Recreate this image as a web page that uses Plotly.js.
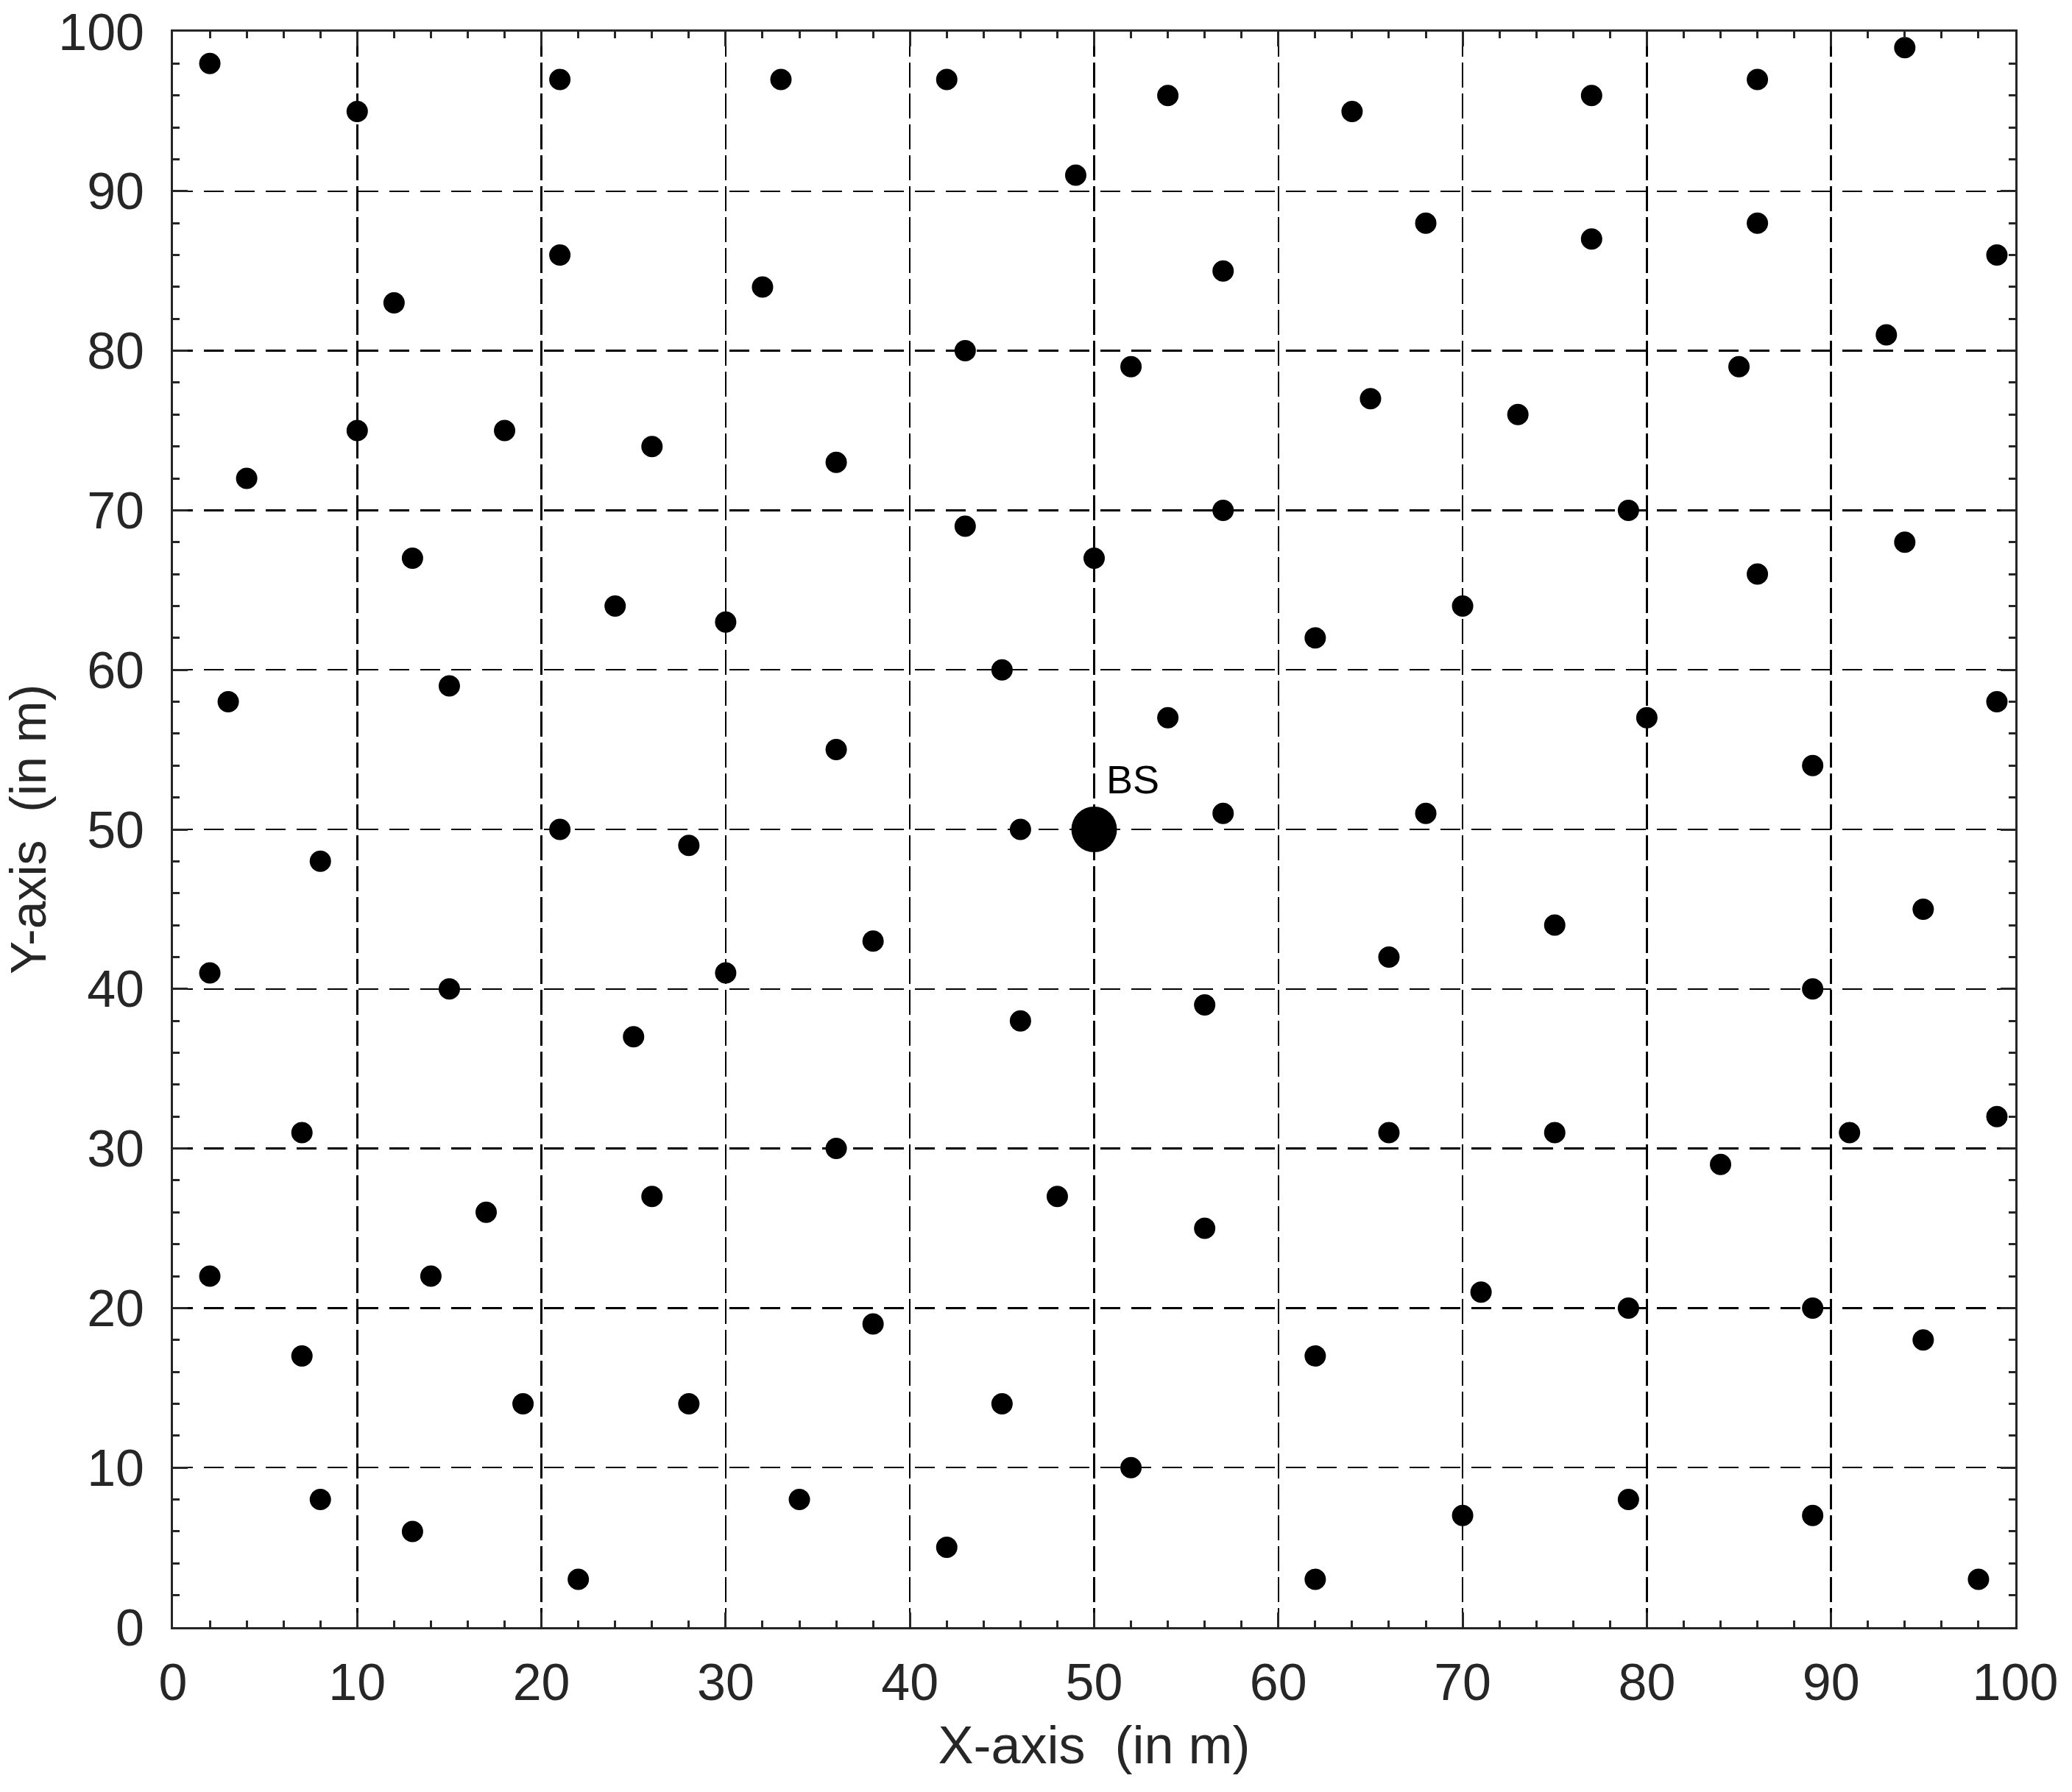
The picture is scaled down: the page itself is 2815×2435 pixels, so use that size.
<!DOCTYPE html>
<html>
<head>
<meta charset="utf-8">
<script src="https://cdn.plot.ly/plotly-3.0.1.min.js"></script>
<style>html,body{margin:0;padding:0;background:#fff;}#chart{width:2815px;height:2435px;}</style>
</head>
<body>
<div id="chart"></div>
<script>
// Sensor node positions (in m)
const nodeX = [2,10,21,33,42,54,49,64,77,86,94,
  68,77,86,99,21,12,32,57,
  43,52,93,85,
  10,18,26,36,65,73,4,
  57,79,94,13,43,50,86,
  24,30,70,62,45,
  3,15,99,54,80,36,89,
  21,28,8,46,57,68,
  95,38,75,66,2,30,15,89,56,46,25,
  7,36,66,75,91,99,84,
  26,48,17,56,
  2,14,71,79,89,38,7,62,95,
  19,28,45,52,
  8,34,79,70,89,13,42,22,62,98];
const nodeY = [98,95,97,97,97,96,91,95,96,97,99,
  88,87,88,86,86,83,84,85,
  80,79,81,79,
  75,75,74,73,77,76,72,
  70,70,68,67,69,67,66,
  64,63,64,62,60,
  58,59,58,57,57,55,54,
  50,49,48,50,51,51,
  45,43,44,42,41,41,40,40,39,38,37,
  31,30,31,31,31,32,29,
  27,27,26,25,
  22,22,21,20,20,19,17,17,18,
  14,14,14,10,
  8,8,8,7,7,6,5,3,3,3];
// Base station
const bsX = [50];
const bsY = [50];
const bsLabel = ["BS"];

const txt = '#262626';
const fontFam = '"Liberation Sans", Arial, Helvetica, sans-serif';

const traces = [
  {x: nodeX, y: nodeY, type: 'scatter', mode: 'markers',
   marker: {color: '#000', size: 29}, hoverinfo: 'x+y', showlegend: false},
  {x: bsX, y: bsY, type: 'scatter', mode: 'markers',
   marker: {color: '#000', size: 62}, showlegend: false}
];

const axisCommon = {
  range: [0, 100], dtick: 10, tick0: 0,
  showline: true, linecolor: txt, linewidth: 3, mirror: 'ticks',
  ticks: 'inside', ticklen: 20, tickwidth: 3, tickcolor: txt,
  minor: {dtick: 2, ticks: 'inside', ticklen: 9, tickwidth: 3, tickcolor: txt, showgrid: false},
  showgrid: true, gridcolor: '#000', gridwidth: 2.5,
  zeroline: false,
  tickfont: {family: fontFam, size: 70, color: txt},
  fixedrange: true
};

const layout = {
  width: 2815, height: 2435,
  margin: {l: 235, r: 77, t: 43, b: 224, pad: 0},
  paper_bgcolor: '#fff', plot_bgcolor: '#fff',
  font: {family: fontFam, color: txt},
  xaxis: Object.assign({}, axisCommon, {
    griddash: '34px,8px',
    ticklabelstandoff: 12,
    title: {text: 'X-axis\u00a0\u00a0(in m)', font: {family: fontFam, size: 72, color: txt}, standoff: 22}
  }),
  yaxis: Object.assign({}, axisCommon, {
    griddash: '27px,15px',
    ticklabelstandoff: 22,
    title: {text: 'Y-axis\u00a0\u00a0(in m)', font: {family: fontFam, size: 68, color: txt}, standoff: 14}
  }),
  annotations: [{
    x: bsX[0], y: bsY[0], xref: 'x', yref: 'y', text: bsLabel[0],
    showarrow: false, xanchor: 'left', yanchor: 'bottom',
    xshift: 14, yshift: 36,
    font: {family: fontFam, size: 54, color: '#000'}
  }]
};

Plotly.newPlot('chart', traces, layout, {staticPlot: true, displayModeBar: false});
</script>
</body>
</html>
